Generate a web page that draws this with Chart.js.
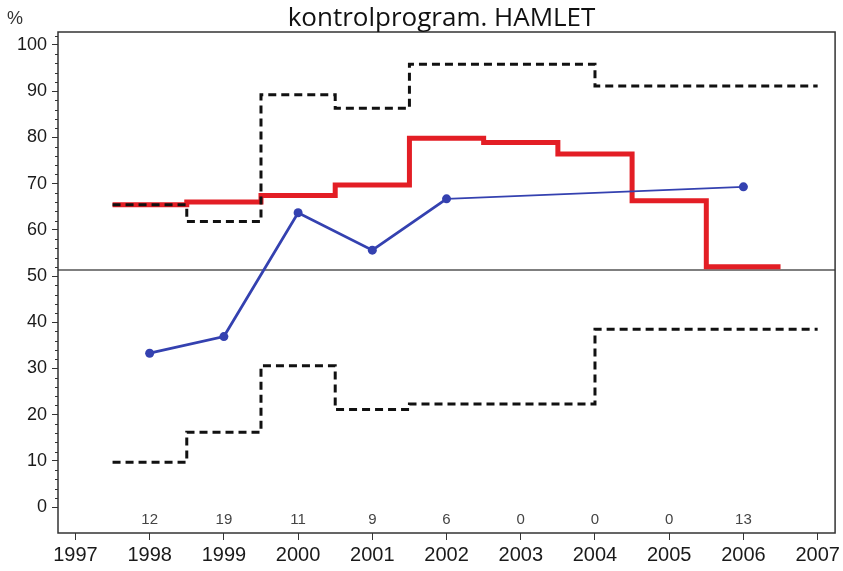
<!DOCTYPE html>
<html>
<head>
<meta charset="utf-8">
<script src="https://cdn.jsdelivr.net/npm/chart.js@4"></script>
<style>
  html, body { margin: 0; padding: 0; background: #fff; }
  #wrap { width: 843px; height: 571px; }
</style>
</head>
<body>
<div id="wrap"><canvas id="chart" width="843" height="571"></canvas></div>
<script>
// data
const years = [1997, 1998, 1999, 2000, 2001, 2002, 2003, 2004, 2005, 2006, 2007];
const yTicks = [0, 10, 20, 30, 40, 50, 60, 70, 80, 90, 100];

// red step line, one value per year (step centred on the year)
const stepYears = [1998, 1999, 2000, 2001, 2002, 2003, 2004, 2005, 2006];
const stepValues = [65.4, 66.0, 67.4, 69.7, 79.8, 78.9, 76.4, 66.3, 52.0];

// control limits, given as interval edges
const limitEdges = [1997.5, 1998.5, 1999.5, 2000.5, 2001.5, 2004, 2007];
const upperLimit = [65.4, 61.8, 89.2, 86.3, 95.8, 91.1];
const lowerLimit = [9.7, 16.2, 30.6, 21.1, 22.3, 38.5];

// blue observed line
const obsYears = [1998, 1999, 2000, 2001, 2002, 2006];
const obsValues = [33.3, 36.9, 63.7, 55.6, 66.7, 69.3];

// numbers printed along the bottom
const counts = [12, 19, 11, 9, 6, 0, 0, 0, 13];

const refLine = 51.3;

function edgesToSteps(edges, vals) {
  const pts = vals.map((v, i) => ({ x: edges[i], y: v }));
  pts.push({ x: edges[edges.length - 1], y: vals[vals.length - 1] });
  return pts;
}

const stepPoints = stepValues.map((v, i) => ({ x: stepYears[i] - 0.5, y: v }));
stepPoints.push({ x: stepYears[stepYears.length - 1] + 0.5, y: stepValues[stepValues.length - 1] });

const sans = "'Liberation Sans', Arial, sans-serif";

const framePlugin = {
  id: 'frame',
  beforeDatasetsDraw(chart) {
    const { ctx, chartArea: a, scales } = chart;
    ctx.save();
    // reference line
    const y = scales.y.getPixelForValue(refLine);
    ctx.strokeStyle = '#555';
    ctx.lineWidth = 1.5;
    ctx.beginPath();
    ctx.moveTo(a.left, y);
    ctx.lineTo(a.right, y);
    ctx.stroke();
    ctx.restore();
  },
  afterDraw(chart) {
    const { ctx, chartArea: a, scales } = chart;
    ctx.save();
    // box
    ctx.strokeStyle = '#333';
    ctx.lineWidth = 1.5;
    ctx.strokeRect(a.left, a.top, a.right - a.left, a.bottom - a.top);
    // minor ticks on y
    ctx.strokeStyle = '#333';
    ctx.lineWidth = 1;
    for (let v = 2; v <= 102; v += 2) {
      if (v % 10 === 0) continue;
      const y = Math.round(scales.y.getPixelForValue(v)) + 0.5;
      ctx.beginPath();
      ctx.moveTo(a.left - 3, y);
      ctx.lineTo(a.left, y);
      ctx.stroke();
    }
    // counts
    ctx.fillStyle = '#444';
    ctx.font = "15px " + sans;
    ctx.textAlign = 'center';
    ctx.textBaseline = 'middle';
    counts.forEach((c, i) => {
      ctx.fillText(String(c), scales.x.getPixelForValue(stepYears[i]), a.bottom - 13);
    });
    // title and % label
    ctx.fillStyle = '#111';
    ctx.font = "26px 'Open Sans', 'Noto Sans', sans-serif";
    ctx.textBaseline = 'alphabetic';
    ctx.fillText('kontrolprogram. HAMLET', (a.left + a.right) / 2 - 5, 26);
    ctx.font = "18px " + sans;
    ctx.fillStyle = '#333';
    ctx.fillText('%', 15, 24);
    ctx.restore();
  }
};

const ctx = document.getElementById('chart').getContext('2d');
new Chart(ctx, {
  type: 'line',
  data: {
    datasets: [
      {
        label: 'upper',
        data: edgesToSteps(limitEdges, upperLimit),
        stepped: 'before',
        borderColor: '#111',
        borderWidth: 3,
        borderDash: [8, 5],
        pointRadius: 0,
        order: 0
      },
      {
        label: 'lower',
        data: edgesToSteps(limitEdges, lowerLimit),
        stepped: 'before',
        borderColor: '#111',
        borderWidth: 3,
        borderDash: [8, 5],
        pointRadius: 0,
        order: 0
      },
      {
        label: 'observed',
        data: obsValues.map((v, i) => ({ x: obsYears[i], y: v })),
        borderColor: '#3441b0',
        backgroundColor: '#3441b0',
        borderWidth: 2.8,
        pointRadius: 4.5,
        pointBorderWidth: 0,
        segment: {
          borderWidth: c => (c.p1.parsed.x - c.p0.parsed.x > 1 ? 1.6 : 2.8)
        },
        order: 1
      },
      {
        label: 'step',
        data: stepPoints,
        stepped: 'before',
        borderColor: '#e31e25',
        borderWidth: 5,
        pointRadius: 0,
        order: 2
      }
    ]
  },
  options: {
    responsive: false,
    animation: false,
    layout: { padding: { top: 32, right: 5, left: 0, bottom: 0 } },
    plugins: {
      legend: { display: false },
      title: { display: false },
      tooltip: { enabled: false }
    },
    scales: {
      x: {
        type: 'linear',
        min: 1996.765,
        max: 2007.235,
        afterBuildTicks: axis => { axis.ticks = years.map(v => ({ value: v })); },
        afterFit: axis => { axis.height = 38; },
        border: { display: false },
        grid: { drawOnChartArea: false, tickLength: 7, color: '#333', lineWidth: 1 },
        ticks: {
          color: '#1a1a1a',
          font: { family: sans, size: 20 },
          padding: 3,
          maxRotation: 0,
          callback: v => String(v)
        }
      },
      y: {
        type: 'linear',
        min: -5.6,
        max: 102.8,
        afterBuildTicks: axis => { axis.ticks = yTicks.map(v => ({ value: v })); },
        afterFit: axis => { axis.width = 58; },
        border: { display: false },
        grid: { drawOnChartArea: false, tickLength: 6, color: '#333', lineWidth: 1 },
        ticks: {
          color: '#1a1a1a',
          font: { family: sans, size: 18 },
          padding: 5
        }
      }
    }
  },
  plugins: [framePlugin]
});
</script>
</body>
</html>
